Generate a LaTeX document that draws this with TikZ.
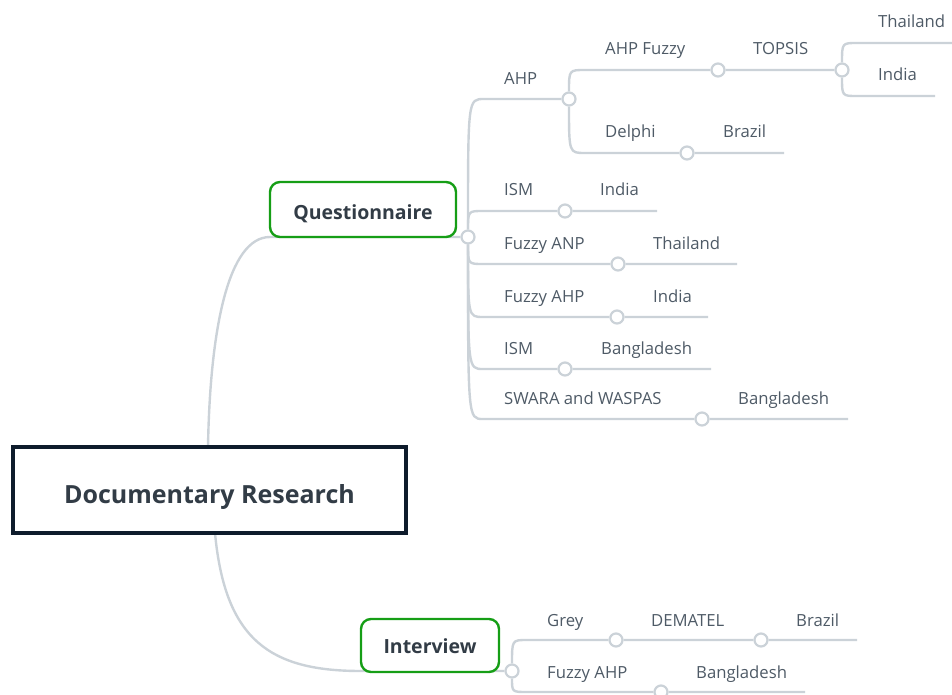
\documentclass[tikz,border=0pt]{standalone}
\usepackage{fontspec}
\setmainfont{Open Sans}
\usepackage{xcolor}
\usetikzlibrary{calc}

\definecolor{linegray}{RGB}{203,210,216}
\definecolor{labelgray}{RGB}{78,90,102}
\definecolor{titledark}{RGB}{50,60,70}
\definecolor{topicgreen}{RGB}{22,158,22}
\definecolor{rootnavy}{RGB}{14,28,44}

\begin{document}
\begin{tikzpicture}[x=1pt, y=-1pt]

\tikzset{
    box/.style = {
    inner sep=0pt,
    text depth=0pt,
    text=titledark,
    font=\bfseries\fontsize{19.5}{22}\selectfont
    }
}

\tikzstyle{rootbox}=[draw=rootnavy, line width=3.2pt, box, minimum width=393pt, minimum height=86pt, text height=26pt, font=\bfseries\fontsize{25}{28}\selectfont]
\tikzstyle{topic}=[draw=topicgreen, line width=2.4pt, rounded corners=10pt, fill=white, box]
\tikzstyle{lbl}=[anchor=base west, inner sep=0pt, text=labelgray, font=\fontsize{16.7}{19}\selectfont]
\tikzstyle{dot}=[circle, draw=linegray, line width=2.2pt, fill=white, minimum size=13pt, inner sep=0pt]
\tikzstyle{link}=[draw=linegray, line width=2.4pt]

\clip (0,0) rectangle (952,695);

% junctions
\node (c-q) [dot] at (468,237) {};
\node (c-i) [dot] at (512,671) {};
\node (c-ahp) [dot] at (569,99) {};
\node (c-ahpf) [dot] at (718,70) {};
\node (c-topsis) [dot] at (842,70) {};
\node (c-delphi) [dot] at (687,153) {};
\node (c-ism1) [dot] at (565,211) {};
\node (c-fanp) [dot] at (618,264) {};
\node (c-fahp1) [dot] at (617,317) {};
\node (c-ism2) [dot] at (565,369) {};
\node (c-swara) [dot] at (702,419) {};
\node (c-grey) [dot] at (616,640) {};
\node (c-dematel) [dot] at (761,640) {};
\node (c-fahp2) [dot] at (661,692) {};

\coordinate (r-up) at (208,447);
\coordinate (r-dn) at (215,533);
\coordinate (q-l) at (270,237);
\coordinate (i-l) at (361,671);
\coordinate (l-ahp) at (484,99);
\coordinate (l-ahpf) at (585,70);
\coordinate (l-delphi) at (585,153);
\coordinate (l-th1) at (857,43);
\coordinate (e-th1) at (960,43);
\coordinate (l-in1) at (857,96);
\coordinate (e-in1) at (935,96);
\coordinate (e-br1) at (784,153);
\coordinate (l-ism1) at (483,211);
\coordinate (e-in2) at (657,211);
\coordinate (l-fanp) at (483,264);
\coordinate (e-th2) at (737,264);
\coordinate (l-fahp1) at (483,317);
\coordinate (e-in3) at (708,317);
\coordinate (l-ism2) at (483,369);
\coordinate (e-bd1) at (711,369);
\coordinate (l-swara) at (483,419);
\coordinate (e-bd2) at (848,419);
\coordinate (l-grey) at (527,640);
\coordinate (e-br2) at (857,640);
\coordinate (l-fahp2) at (527,692);
\coordinate (e-bd3) at (805,692);

\draw [link] (r-up) .. controls (210,330) and (228,237) .. (q-l) -- (c-q);
\draw [link] (r-dn) .. controls (225,640) and (270,671) .. (i-l) -- (c-i);

\draw [link] (c-q) .. controls (c-q |- l-ahp) .. (l-ahp) -- (c-ahp);
\draw [link] (c-q) .. controls (c-q |- l-ism1) .. (l-ism1) -- (c-ism1) -- (e-in2);
\draw [link] (c-q) .. controls (c-q |- l-fanp) .. (l-fanp) -- (c-fanp) -- (e-th2);
\draw [link] (c-q) .. controls (c-q |- l-fahp1) .. (l-fahp1) -- (c-fahp1) -- (e-in3);
\draw [link] (c-q) .. controls (c-q |- l-ism2) .. (l-ism2) -- (c-ism2) -- (e-bd1);
\draw [link] (c-q) .. controls (c-q |- l-swara) .. (l-swara) -- (c-swara) -- (e-bd2);

\draw [link] (c-ahp) .. controls (c-ahp |- l-ahpf) .. (l-ahpf) -- (c-ahpf) -- (c-topsis);
\draw [link] (c-ahp) .. controls (c-ahp |- l-delphi) .. (l-delphi) -- (c-delphi) -- (e-br1);
\draw [link] (c-topsis) .. controls (c-topsis |- l-th1) .. (l-th1) -- (e-th1);
\draw [link] (c-topsis) .. controls (c-topsis |- l-in1) .. (l-in1) -- (e-in1);

\draw [link] (c-i) .. controls (c-i |- l-grey) .. (l-grey) -- (c-grey) -- (c-dematel) -- (e-br2);
\draw [link] (c-i) .. controls (c-i |- l-fahp2) .. (l-fahp2) -- (c-fahp2) -- (e-bd3);

\node (root) [rootbox] at (209.5,490) {Documentary Research};
\node (q) [topic, minimum width=186pt, minimum height=55pt, text height=19pt] at (363,209.5) {Questionnaire};
\node (i) [topic, minimum width=138pt, minimum height=53pt, text height=15pt] at (430,645.5) {Interview};

\node (t-ahp) [lbl] at (504,84.5) {AHP};
\node (t-ahpf) [lbl] at (605,55) {AHP Fuzzy};
\node (t-topsis) [lbl] at (753,55) {TOPSIS};
\node (t-th1) [lbl] at (878,28) {Thailand};
\node (t-in1) [lbl] at (878,81) {India};
\node (t-delphi) [lbl] at (605,138) {Delphi};
\node (t-br1) [lbl] at (723,138) {Brazil};
\node (t-ism1) [lbl] at (504,196) {ISM};
\node (t-in2) [lbl] at (600,196) {India};
\node (t-fanp) [lbl] at (504,249) {Fuzzy ANP};
\node (t-th2) [lbl] at (653,249) {Thailand};
\node (t-fahp1) [lbl] at (504,302) {Fuzzy AHP};
\node (t-in3) [lbl] at (653,302) {India};
\node (t-ism2) [lbl] at (504,354) {ISM};
\node (t-bd1) [lbl] at (601,354) {Bangladesh};
\node (t-swara) [lbl] at (504,404) {SWARA and WASPAS};
\node (t-bd2) [lbl] at (738,404) {Bangladesh};
\node (t-grey) [lbl] at (547,626) {Grey};
\node (t-dematel) [lbl] at (651,626) {DEMATEL};
\node (t-br2) [lbl] at (796,626) {Brazil};
\node (t-fahp2) [lbl] at (547,678) {Fuzzy AHP};
\node (t-bd3) [lbl] at (696,678) {Bangladesh};

\end{tikzpicture}
\end{document}
